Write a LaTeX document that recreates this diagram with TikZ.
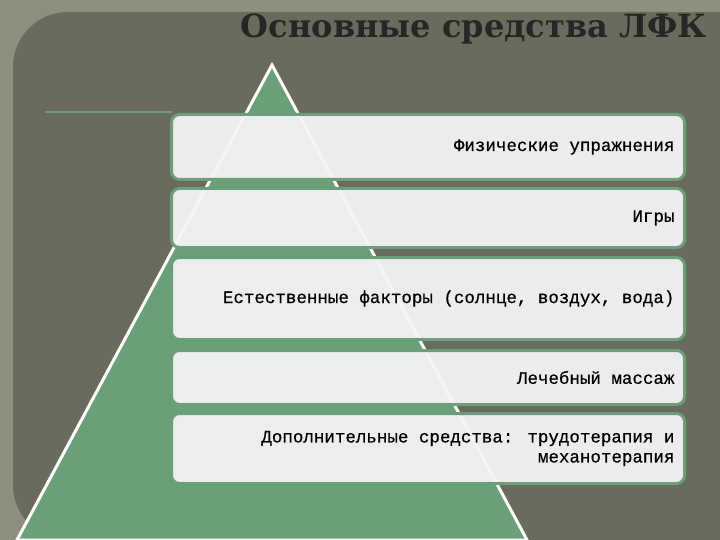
\documentclass[tikz,border=0pt]{standalone}
\usepackage{fontspec}
\setmainfont{DejaVu Serif}
\newfontfamily\narrowf[FakeBold=0.6]{Liberation Mono}
\begin{document}
\begin{tikzpicture}[x=1pt,y=-1pt,
  box/.style={draw=tri,line width=3pt,rounded corners=8pt,fill=boxc,fill opacity=0.95,text opacity=1},
  lab/.style={font=\narrowf\fontsize{17.5}{20}\selectfont,anchor=east,align=right}]
\definecolor{bgc}{HTML}{8F8F80}
\definecolor{panel}{HTML}{6B6B5D}
\definecolor{tri}{HTML}{6A9F7A}
\definecolor{boxc}{HTML}{F4F3F5}
\useasboundingbox (0,0) rectangle (720,540);
\fill[bgc] (0,0) rectangle (720,540);
\fill[panel,rounded corners=55pt] (13,12) -- (720,12) -- (720,540) -- (13,540) -- cycle;
\fill[panel] (600,12) rectangle (720,540);
\node[font=\bfseries\fontsize{32}{36}\selectfont,text=black!85,anchor=north,inner sep=0pt] (title) at (474,14) {Основные средства ЛФК};
\coordinate (l0) at (45,112); \coordinate (l1) at (172,112);
\draw[tri,line width=1.2pt] (l0) -- (l1);
\draw[white,line width=3pt,fill=tri] (272,65) -- (17,540) -- (527,540) -- cycle;
\node[box,minimum width=513,minimum height=65,anchor=north west] (b1) at (170,113) {};
\node[box,minimum width=513,minimum height=59,anchor=north west] (b2) at (170,187) {};
\node[box,minimum width=513,minimum height=82,anchor=north west] (b3) at (170,256) {};
\node[box,minimum width=513,minimum height=54,anchor=north west] (b4) at (170,349) {};
\node[box,minimum width=513,minimum height=70,anchor=north west] (b5) at (170,412) {};
\node[lab] (t1) at ([xshift=-8]b1.east) {Физические упражнения};
\node[lab] (t2) at ([xshift=-8]b2.east) {Игры};
\node[lab] (t3) at ([xshift=-8]b3.east) {Естественные факторы (солнце, воздух, вода)};
\node[lab] (t4) at ([xshift=-8]b4.east) {Лечебный массаж};
\node[lab] (t5) at ([xshift=-8]b5.east) {Дополнительные средства: трудотерапия и\\механотерапия};
\end{tikzpicture}
\end{document}
